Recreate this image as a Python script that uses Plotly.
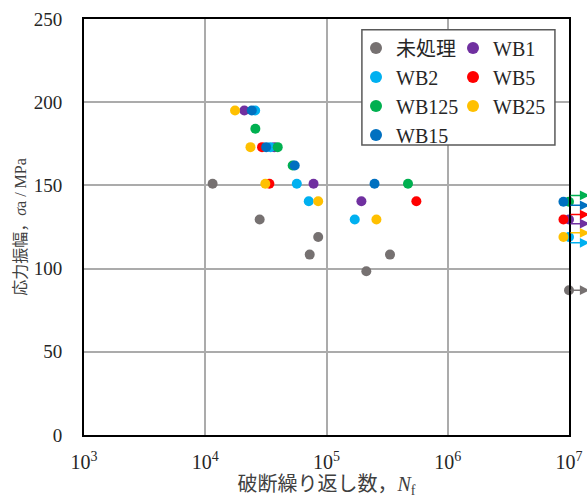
import plotly.graph_objects as go

# ---------------- data ----------------
series_names = ["未処理", "WB1", "WB2", "WB5", "WB125", "WB25", "WB15"]
series_colors = ["#767171", "#7030A0", "#00B0F0", "#FF0000", "#00B050", "#FFC000", "#0070C0"]

# fractured specimens (cycles to failure, stress amplitude)
n_untreated = [11500, 28100, 72700, 85400, 213000, 334000]
s_untreated = [151, 129.5, 108.4, 119, 98.4, 108.4]
n_wb1 = [21000, 37100, 78200, 194000]
s_wb1 = [195, 173, 151, 140.5]
n_wb2 = [25800, 34500, 56900, 71400, 171000]
s_wb2 = [195, 173, 151, 140.5, 129.5]
n_wb5 = [29400, 33800, 551000]
s_wb5 = [173, 151, 140.5]
n_wb125 = [25900, 39600, 52600, 470000]
s_wb125 = [184, 173, 162, 151]
n_wb25 = [17600, 23600, 31300, 85400, 258000]
s_wb25 = [195, 173, 151, 140.5, 129.5]
n_wb15 = [24200, 31800, 54700, 249000]
s_wb15 = [195, 173, 162, 151]

# run-outs (no failure) per series: cycles, stress
runout_n = [1.0e7, 1.0e7, 1.0e7, 9.0e6, 1.0e7, 9.0e6, 9.0e6]
runout_s = [87, 129.5, 119, 129.5, 140.2, 119, 140.2]

# ---------------- styles ----------------
arrow_dy = [0, -2.5, -3.5, 3, 3.8, 2.5, -2.2]   # vertical offset of runout arrows (style)
arrow_tip = 0.17                                 # arrow tip, decades beyond 1e7 (style)
legend_of = ["legend", "legend2", "legend", "legend2", "legend", "legend2", "legend"]
font_main = "Liberation Serif, Noto Sans CJK JP, serif"

fail_n = [n_untreated, n_wb1, n_wb2, n_wb5, n_wb125, n_wb25, n_wb15]
fail_s = [s_untreated, s_wb1, s_wb2, s_wb5, s_wb125, s_wb25, s_wb15]

fig = go.Figure()

for i, name in enumerate(series_names):
    fig.add_trace(go.Scatter(
        x=fail_n[i] + [runout_n[i]], y=fail_s[i] + [runout_s[i]],
        mode="markers", name=name, legend=legend_of[i],
        marker=dict(color=series_colors[i], size=10, line=dict(width=0)),
        cliponaxis=False))

# arrows for run-outs
annotations = []
for i, name in enumerate(series_names):
    y_a = runout_s[i] + arrow_dy[i]
    annotations.append(dict(
        x=7 + arrow_tip, y=y_a, ax=7.0, ay=y_a,
        xref="x", yref="y", axref="x", ayref="y",
        showarrow=True, arrowhead=2, arrowsize=1.3, arrowwidth=1.5,
        arrowcolor=series_colors[i], text=""))

legend_common = dict(
    orientation="v", xanchor="left", yanchor="top",
    bgcolor="rgba(0,0,0,0)", borderwidth=0,
    font=dict(size=20, family=font_main, color="#262626"),
    itemsizing="constant", tracegroupgap=0)

fig.update_layout(
    width=587, height=501,
    margin=dict(l=84, r=18, t=19, b=66),
    paper_bgcolor="white", plot_bgcolor="white",
    font=dict(family=font_main, size=19, color="#262626"),
    showlegend=True,
    legend=dict(x=(356 - 84) / 485, y=0.977, **legend_common),
    legend2=dict(x=(453 - 84) / 485, y=0.977, **legend_common),
    annotations=annotations,
    shapes=[dict(type="rect", xref="paper", yref="paper",
                 x0=0.573, x1=0.971, y0=0.697, y1=0.974,
                 fillcolor="white", line=dict(color="#595959", width=1.5),
                 layer="above")],
    xaxis=dict(
        type="log", range=[3, 7], automargin=False,
        tickvals=[1e3, 1e4, 1e5, 1e6, 1e7],
        ticktext=["10<sup>3</sup>", "10<sup>4</sup>", "10<sup>5</sup>", "10<sup>6</sup>", "10<sup>7</sup>"],
        showgrid=True, gridcolor="#ABABAB", gridwidth=2,
        showline=True, linecolor="black", linewidth=2, mirror=True,
        ticks="", ticklabelstandoff=8,
        tickfont=dict(size=20, color="#262626"),
        title=dict(text="破断繰り返し数，<i>N</i><sub>f</sub>", font=dict(size=20, color="#404040"), standoff=2),
        zeroline=False),
    yaxis=dict(
        range=[0, 250], tickvals=[0, 50, 100, 150, 200, 250], automargin=False,
        showgrid=True, gridcolor="#ABABAB", gridwidth=2,
        showline=True, linecolor="black", linewidth=2, mirror=True,
        ticks="", ticklabelstandoff=16,
        tickfont=dict(size=19, color="#262626"),
        title=dict(text="応力振幅，<i>σ</i>a / MPa", font=dict(size=16, color="#404040"), standoff=3),
        zeroline=False),
)

# remove the default 8px body margin so the 587x501 figure fills the window exactly
fig.write_html("out.html",
               config={"displayModeBar": False},
               post_script="document.body.style.margin='0';document.body.style.overflow='hidden';")
